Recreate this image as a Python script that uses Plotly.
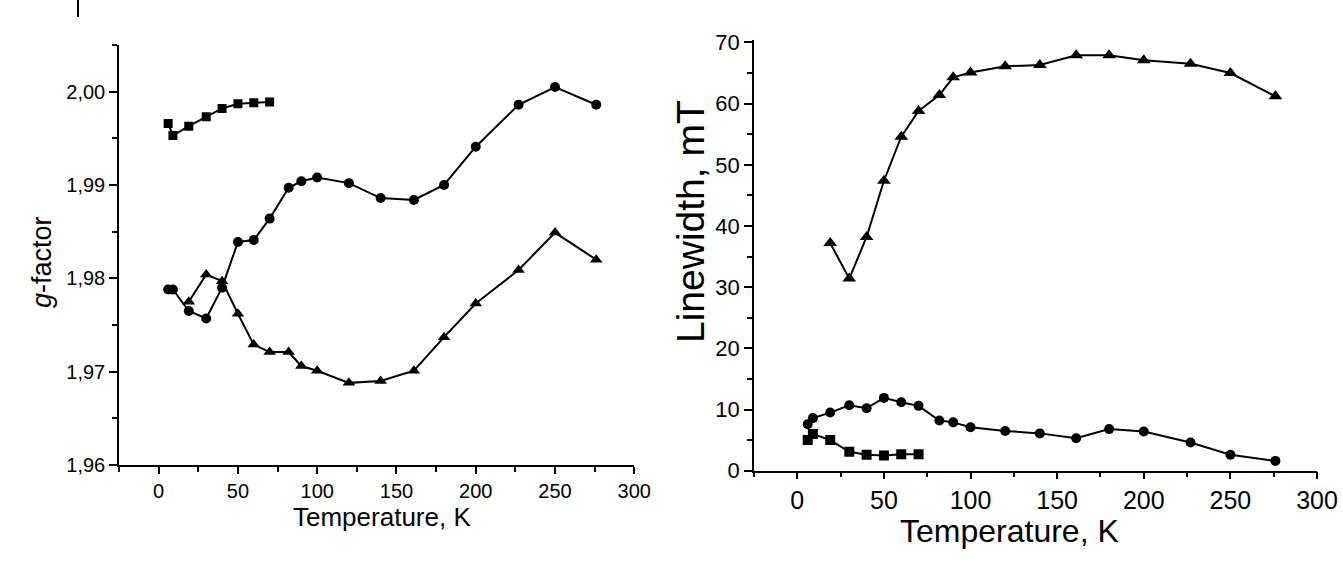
import plotly.graph_objects as go

W, H = 1343, 565

# ---------------- data ----------------
T_sq = [6, 9, 19, 30, 40, 50, 60, 70]
T_ci = [6, 9, 19, 30, 40, 50, 60, 70, 82, 90, 100, 120, 140, 161, 180, 200, 227, 250, 276]
T_tr = [19, 30, 40, 50, 60, 70, 82, 90, 100, 120, 140, 161, 180, 200, 227, 250, 276]

g_sq = [1.9966, 1.9953, 1.9963, 1.9973, 1.9982, 1.9987, 1.9988, 1.9989]
g_ci = [1.9788, 1.9788, 1.9765, 1.9757, 1.9790, 1.9839, 1.9841, 1.9864, 1.9897, 1.9904,
        1.9908, 1.9902, 1.9886, 1.9884, 1.9900, 1.9941, 1.9986, 2.0005, 1.9986]
g_tr = [1.9775, 1.9804, 1.9797, 1.9762, 1.9729, 1.9721, 1.9721, 1.9706, 1.9701, 1.9688,
        1.9690, 1.9701, 1.9737, 1.9773, 1.9809, 1.9849, 1.9820]

lw_sq = [5.0, 6.0, 5.0, 3.1, 2.6, 2.5, 2.7, 2.7]
lw_ci = [7.6, 8.6, 9.5, 10.7, 10.2, 11.9, 11.2, 10.6, 8.2, 7.9, 7.1, 6.5, 6.1, 5.3,
         6.8, 6.4, 4.6, 2.6, 1.6]
lw_tr = [37.2, 31.4, 38.2, 47.4, 54.6, 58.8, 61.4, 64.3, 65.1, 66.1, 66.3, 67.9, 67.9,
         67.1, 66.5, 65.0, 61.2]

x_ticks = [0, 50, 100, 150, 200, 250, 300]
g_ticks = [1.96, 1.97, 1.98, 1.99, 2.00]
g_ticktext = ["1,96", "1,97", "1,98", "1,99", "2,00"]
lw_ticks = [0, 10, 20, 30, 40, 50, 60, 70]

# ---------------- figure ----------------
FONT = "Arial, Liberation Sans, sans-serif"
fig = go.Figure()

def add(x, y, sym, size, xa, ya):
    fig.add_trace(go.Scatter(
        x=x, y=y, mode="lines+markers", xaxis=xa, yaxis=ya,
        line=dict(color="black", width=2),
        marker=dict(symbol=sym, size=size, color="black"),
        showlegend=False, hoverinfo="skip"))

add(T_sq, g_sq, "square", 9, "x", "y")
add(T_ci, g_ci, "circle", 10, "x", "y")
add(T_tr, g_tr, "triangle-up", 11, "x", "y")
add(T_sq, lw_sq, "square", 10, "x2", "y2")
add(T_ci, lw_ci, "circle", 10, "x2", "y2")
add(T_tr, lw_tr, "triangle-up", 12, "x2", "y2")

def px_x(p):
    return p / W

def px_y(p):
    return 1 - p / H

axis_common = dict(showgrid=False, zeroline=False, showline=True, linecolor="black",
                   linewidth=1.5, ticks="outside", tickcolor="black", tickwidth=1.5,
                   mirror=False, automargin=False)

fig.update_layout(
    width=W, height=H,
    margin=dict(l=0, r=0, t=0, b=0, autoexpand=False),
    paper_bgcolor="white", plot_bgcolor="white",
    font=dict(family=FONT, color="black"),
    xaxis=dict(domain=[px_x(119), px_x(634.3)], range=[-25, 300], anchor="y",
               tickvals=x_ticks, ticklen=7,
               tickfont=dict(size=20, family=FONT),
               minor=dict(dtick=25, tick0=0, ticklen=5, ticks="outside",
                          tickcolor="black", tickwidth=1.5),
               **axis_common),
    yaxis=dict(domain=[px_y(465), px_y(45)], range=[1.96, 2.005], anchor="x",
               tickvals=g_ticks, ticktext=g_ticktext, ticklen=8,
               tickfont=dict(size=20, family=FONT),
               minor=dict(dtick=0.005, tick0=1.96, ticklen=5, ticks="outside",
                          tickcolor="black", tickwidth=1.5),
               **axis_common),
    xaxis2=dict(domain=[px_x(754), px_x(1317)], range=[-25, 300], anchor="y2",
                tickvals=x_ticks, ticklen=7,
                tickfont=dict(size=25, family=FONT),
                minor=dict(dtick=25, tick0=0, ticklen=5, ticks="outside",
                           tickcolor="black", tickwidth=1.5),
                **axis_common),
    yaxis2=dict(domain=[px_y(470.7), px_y(40)], range=[0, 70.4], anchor="x2",
                tickvals=lw_ticks, ticklen=8,
                tickfont=dict(size=22, family=FONT),
                minor=dict(dtick=5, tick0=0, ticklen=5, ticks="outside",
                           tickcolor="black", tickwidth=1.5),
                **axis_common),
)

annots = [
    dict(text="Temperature, K", x=px_x(382), y=px_y(517), size=26, angle=0),
    dict(text="<i>g</i>-factor", x=px_x(42), y=px_y(262), size=27, angle=-90),
    dict(text="Temperature, K", x=px_x(1009), y=px_y(531), size=32, angle=0),
    dict(text="Linewidth, mT", x=px_x(690), y=px_y(222), size=39, angle=-90),
]
for a in annots:
    fig.add_annotation(text=a["text"], x=a["x"], y=a["y"], xref="paper", yref="paper",
                       xanchor="center", yanchor="middle", showarrow=False,
                       textangle=a["angle"], font=dict(size=a["size"], family=FONT, color="black"))

fig.add_shape(type="line", xref="paper", yref="paper",
              x0=px_x(78), x1=px_x(78), y0=1, y1=px_y(17),
              line=dict(color="black", width=2))

fig.write_html("out.html")
